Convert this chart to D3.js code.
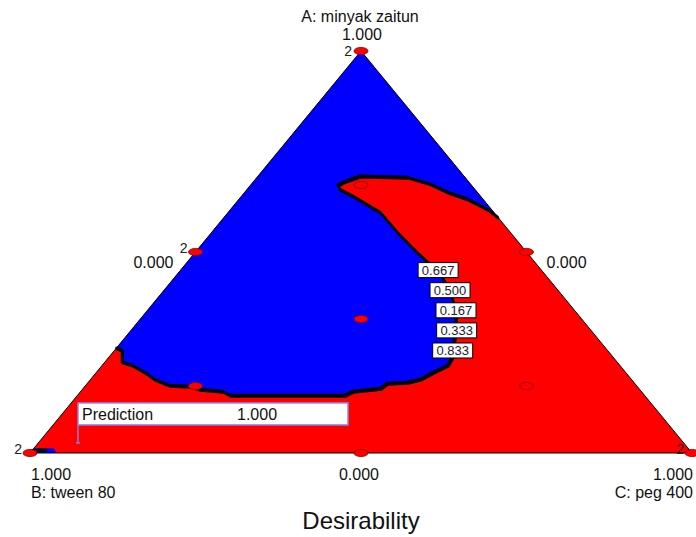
<!DOCTYPE html>
<html><head><meta charset="utf-8">
<script src="https://cdn.jsdelivr.net/npm/d3@7"></script>
<style>body{margin:0;background:#fff}</style>
</head><body>
<svg id="c" width="696" height="537"></svg>
<script>
// Ternary coordinates stored as [A (minyak zaitun), C (peg 400)]; B = 1 - A - C
const components = ["A: minyak zaitun", "B: tween 80", "C: peg 400"];
const vertexTicks = ["1.000", "1.000", "1.000"];
const midTicks = ["0.000", "0.000", "0.000"];

// boundary between low-desirability (blue) and high (red) regions; 5 contours bunched together
const contourBoundary = [
  [0.26,0.0],[0.255,0.012],[0.225,0.027],[0.2175,0.046],[0.1975,0.077],[0.1825,0.097],
  [0.1675,0.127],[0.165,0.159],[0.1575,0.178],[0.1525,0.215],[0.1425,0.231],[0.1425,0.405],
  [0.1525,0.412],[0.16,0.450],[0.1725,0.454],[0.175,0.483],[0.1825,0.499],[0.2,0.510],
  [0.2175,0.523],[0.2375,0.520],[0.255,0.511],[0.305,0.492],[0.355,0.466],[0.405,0.432],
  [0.455,0.389],[0.475,0.363],[0.4975,0.337],[0.5475,0.282],[0.5975,0.231],[0.6375,0.170],
  [0.655,0.141],[0.665,0.133],[0.6725,0.137],[0.6875,0.155],[0.685,0.228],[0.6675,0.272],
  [0.6475,0.308],[0.63,0.347],[0.605,0.389],[0.585,0.415]
];
// small blue patch near the B vertex
const cornerPatch = [[0,0],[0.012,0],[0.012,0.03],[0,0.04]];

const contourLevels = ["0.667","0.500","0.167","0.333","0.833"];
const contourLabelPos = [[0.455,0.389],[0.405,0.432],[0.355,0.466],[0.305,0.492],[0.255,0.511]];

const designPoints = [[1,0],[0,0],[0,1],[0.5,0],[0.5,0.5],[0,0.5],[1/3,1/3],[2/3,1/6],[1/6,1/6],[1/6,2/3]];
const replicatePoints = [[1,0],[0,0],[0,1],[0.5,0]];
const replicateCounts = ["2","2","2","2"];

const predictionPoint = [0.025,0.06];
const predictionLabel = "Prediction";
const predictionValue = "1.000";
const chartTitle = "Desirability";

const svg = d3.select("#c");
const xS = d3.scaleLinear().domain([0,1]).range([30,692]);
const yS = d3.scaleLinear().domain([0,1]).range([453,51]);
const proj = ([a,c]) => [xS(c + a/2), yS(a)];
const line = d3.line().x(d=>proj(d)[0]).y(d=>proj(d)[1]);
const FONT = "Liberation Sans, Arial, sans-serif";

const triangle = [[1,0],[0,0],[0,1]];
// red base (high desirability)
svg.append("path").attr("d", line(triangle)+"Z").attr("fill","#ff0000");
// blue region: top vertex, left edge down to contour, contour, right edge back up
const bluePoly = [[1,0]].concat(contourBoundary);
svg.append("path").attr("d", line(bluePoly)+"Z").attr("fill","#0000ff");
svg.append("path").attr("d", line(cornerPatch)+"Z").attr("fill","#0000ff");
svg.append("path").attr("d", line([[0.006,0.0],[0.008,0.022]])).attr("stroke","#000").attr("stroke-width",3).attr("fill","none");

// contour lines (five levels almost coincide)
contourLevels.forEach((lv,i)=>{
  const off = (i-2)*0.5;
  svg.append("path").attr("d", line(contourBoundary)).attr("fill","none")
    .attr("stroke","#000").attr("stroke-width",2).attr("stroke-linejoin","miter")
    .attr("transform",`translate(${off*0.6},${off})`);
});

// triangle outline
svg.append("path").attr("d", line(triangle)+"Z").attr("fill","none").attr("stroke","#000").attr("stroke-width",1);

// design points
svg.selectAll("ellipse.dp").data(designPoints).enter().append("ellipse")
  .attr("cx",d=>proj(d)[0]).attr("cy",d=>proj(d)[1]).attr("rx",7).attr("ry",3.6)
  .attr("fill","#ff0000").attr("stroke","#7a0000").attr("stroke-width",0.8);
svg.selectAll("text.rep").data(replicatePoints).enter().append("text")
  .attr("x",(d,i)=>proj(d)[0]-(i===0?9:8)).attr("y",(d,i)=>proj(d)[1]+(i===0?5:1)).attr("text-anchor","end")
  .attr("font-family",FONT).attr("font-size",14).attr("fill","#222")
  .text((d,i)=>replicateCounts[i]);

// contour labels
contourLevels.forEach((lv,i)=>{
  const [x,y] = proj(contourLabelPos[i]);
  svg.append("rect").attr("x",x-20).attr("y",y-7.5).attr("width",40).attr("height",15)
    .attr("fill","#fff").attr("stroke","#000").attr("stroke-width",1);
  svg.append("text").attr("x",x).attr("y",y+5).attr("text-anchor","middle")
    .attr("font-family",FONT).attr("font-size",13).attr("fill","#1a2030").text(lv);
});

// axis labels
const T = (x,y,t,anchor,size)=>svg.append("text").attr("x",x).attr("y",y).attr("text-anchor",anchor)
  .attr("font-family",FONT).attr("font-size",size||16).attr("fill","#111").text(t);
const vTop = proj([1,0]), vBL = proj([0,0]), vBR = proj([0,1]);
T(vTop[0]-1, 22, components[0], "middle");
T(vTop[0]+1, 40, vertexTicks[0], "middle");
T(vBL[0]+1, 480, vertexTicks[1], "start");
T(vBL[0]+1, 498, components[1], "start");
T(vBR[0]+1, 480, vertexTicks[2], "end");
T(vBR[0]+1, 498, components[2], "end");
const ml = proj([0.5,0]), mr = proj([0.5,0.5]), mb = proj([0,0.5]);
T(ml[0]-22, 268, midTicks[0], "end");
T(mr[0]+20, 268, midTicks[1], "start");
T(mb[0]-2, 480, midTicks[2], "middle");
T(361, 529, chartTitle, "middle", 24);

// prediction flag
const pp = proj(predictionPoint);
svg.append("line").attr("x1",pp[0]).attr("x2",pp[0]).attr("y1",pp[1]-18).attr("y2",pp[1])
  .attr("stroke","#8080e0").attr("stroke-width",1.5);
svg.append("line").attr("x1",pp[0]-2).attr("x2",pp[0]+2).attr("y1",pp[1]).attr("y2",pp[1])
  .attr("stroke","#8080e0").attr("stroke-width",1.5);
svg.append("rect").attr("x",pp[0]).attr("y",pp[1]-40).attr("width",270).attr("height",22)
  .attr("fill","#fff").attr("stroke","#8888e8").attr("stroke-width",1.5);
T(pp[0]+4, pp[1]-23, predictionLabel, "start");
T(pp[0]+159, pp[1]-23, predictionValue, "start");
</script>
</body></html>
